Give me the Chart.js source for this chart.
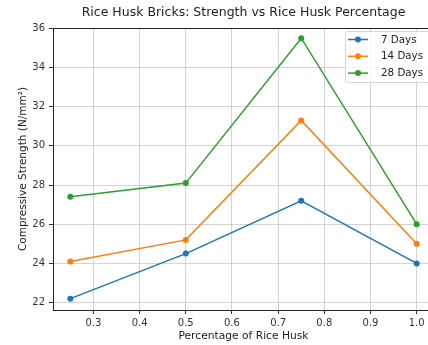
<!DOCTYPE html>
<html>
<head>
<meta charset="utf-8">
<script src="https://cdn.jsdelivr.net/npm/chart.js@4/dist/chart.umd.min.js"></script>
<style>
  html, body { margin: 0; padding: 0; background: #fff; overflow: hidden; width: 428px; height: 345px; }
  #wrap { position: absolute; left: 0; top: 0; width: 487px; height: 345px; }
</style>
</head>
<body>
<div id="wrap"><canvas id="c" width="487" height="345"></canvas></div>
<script>
// Rice husk share in the mix and compressive strength at each curing age
const riceHusk = [0.25, 0.5, 0.75, 1.0];
const days7 = [22.2, 24.5, 27.2, 24.0];
const days14 = [24.1, 25.2, 31.3, 25.0];
const days28 = [27.4, 28.1, 35.5, 26.0];
const xTicks = [0.3, 0.4, 0.5, 0.6, 0.7, 0.8, 0.9, 1.0];
const yTicks = [22, 24, 26, 28, 30, 32, 34, 36];
const seriesNames = ['7 Days', '14 Days', '28 Days'];
const seriesColors = ['#1f77b4', '#ff7f0e', '#2ca02c'];
const chartTitle = 'Rice Husk Bricks: Strength vs Rice Husk Percentage';

const FONT = 'DejaVu Sans';
const series = [days7, days14, days28];

const datasets = series.map((vals, i) => ({
  label: seriesNames[i],
  data: riceHusk.map((x, j) => ({ x: x, y: vals[j] })),
  borderColor: seriesColors[i],
  backgroundColor: seriesColors[i],
  borderWidth: 1.5,
  pointRadius: 3,
  pointHoverRadius: 3,
  pointBorderWidth: 0,
  tension: 0
}));

// box around the plotting area (top/right spines) and the title centred over it
const frame = {
  id: 'frame',
  afterDatasetsDraw(chart) {
    const { ctx, chartArea: a } = chart;
    ctx.save();
    ctx.strokeStyle = '#222';
    ctx.lineWidth = 1;
    ctx.strokeRect(Math.round(a.left) + 0.5, Math.round(a.top) + 0.5,
                   Math.round(a.right - a.left), Math.round(a.bottom - a.top));
    ctx.fillStyle = '#222';
    ctx.font = '12.5px "' + FONT + '"';
    ctx.textAlign = 'center';
    ctx.textBaseline = 'alphabetic';
    ctx.fillText(chartTitle, (a.left + a.right) / 2, 16);
    ctx.restore();
  }
};

// legend with line + marker samples, upper right inside the axes
const lineLegend = {
  id: 'lineLegend',
  afterDraw(chart) {
    const { ctx } = chart;
    const x0 = 345, y0 = 31, w = 90, h = 51;
    ctx.save();
    ctx.fillStyle = 'rgba(255,255,255,0.8)';
    ctx.strokeStyle = 'rgba(204,204,204,0.8)';
    ctx.lineWidth = 1;
    ctx.beginPath();
    ctx.roundRect(x0 + 0.5, y0 + 0.5, w, h, 2);
    ctx.fill();
    ctx.stroke();
    ctx.font = '10.3px "' + FONT + '"';
    ctx.textBaseline = 'middle';
    chart.data.datasets.forEach((ds, i) => {
      const y = 39.5 + i * 16.8;
      ctx.strokeStyle = ds.borderColor;
      ctx.lineWidth = 1.5;
      ctx.beginPath();
      ctx.moveTo(348, y);
      ctx.lineTo(368, y);
      ctx.stroke();
      ctx.fillStyle = ds.borderColor;
      ctx.beginPath();
      ctx.arc(358, y, 3, 0, Math.PI * 2);
      ctx.fill();
      ctx.fillStyle = '#222';
      ctx.fillText(ds.label, 381, y + 0.5);
    });
    ctx.restore();
  }
};

new Chart(document.getElementById('c'), {
  type: 'line',
  data: { datasets },
  plugins: [frame, lineLegend],
  options: {
    responsive: false,
    animation: false,
    layout: { padding: { left: 0, right: 53, top: 28, bottom: 0 } },
    plugins: {
      legend: { display: false },
      tooltip: { enabled: false },
      title: { display: false }
    },
    scales: {
      x: {
        type: 'linear',
        min: 0.2125,
        max: 1.0375,
        afterBuildTicks(scale) { scale.ticks = xTicks.map(v => ({ value: v })); },
        afterFit(scale) { scale.height = 35; },
        ticks: {
          color: '#333',
          font: { family: FONT, size: 10 },
          padding: 3,
          maxRotation: 0,
          autoSkip: false,
          callback: v => Number(v).toFixed(1)
        },
        grid: { color: 'rgba(176,176,176,0.55)', lineWidth: 1, tickColor: '#333', tickLength: 4 },
        border: { display: true, color: '#222', width: 1 },
        title: {
          display: true,
          text: 'Percentage of Rice Husk',
          color: '#222',
          font: { family: FONT, size: 10.7 },
          padding: { top: 0, bottom: 2.5 }
        }
      },
      y: {
        type: 'linear',
        min: 21.62,
        max: 36.02,
        afterBuildTicks(scale) { scale.ticks = yTicks.map(v => ({ value: v })); },
        afterFit(scale) { scale.width = 53; },
        ticks: {
          color: '#333',
          font: { family: FONT, size: 10 },
          padding: 4,
          autoSkip: false,
          callback: v => String(v)
        },
        grid: { color: 'rgba(176,176,176,0.55)', lineWidth: 1, tickColor: '#333', tickLength: 4 },
        border: { display: true, color: '#222', width: 1 },
        title: {
          display: true,
          text: 'Compressive Strength (N/mm²)',
          color: '#222',
          font: { family: FONT, size: 10.5 },
          padding: { top: 16.5, bottom: 0 }
        }
      }
    }
  }
});
</script>
</body>
</html>
